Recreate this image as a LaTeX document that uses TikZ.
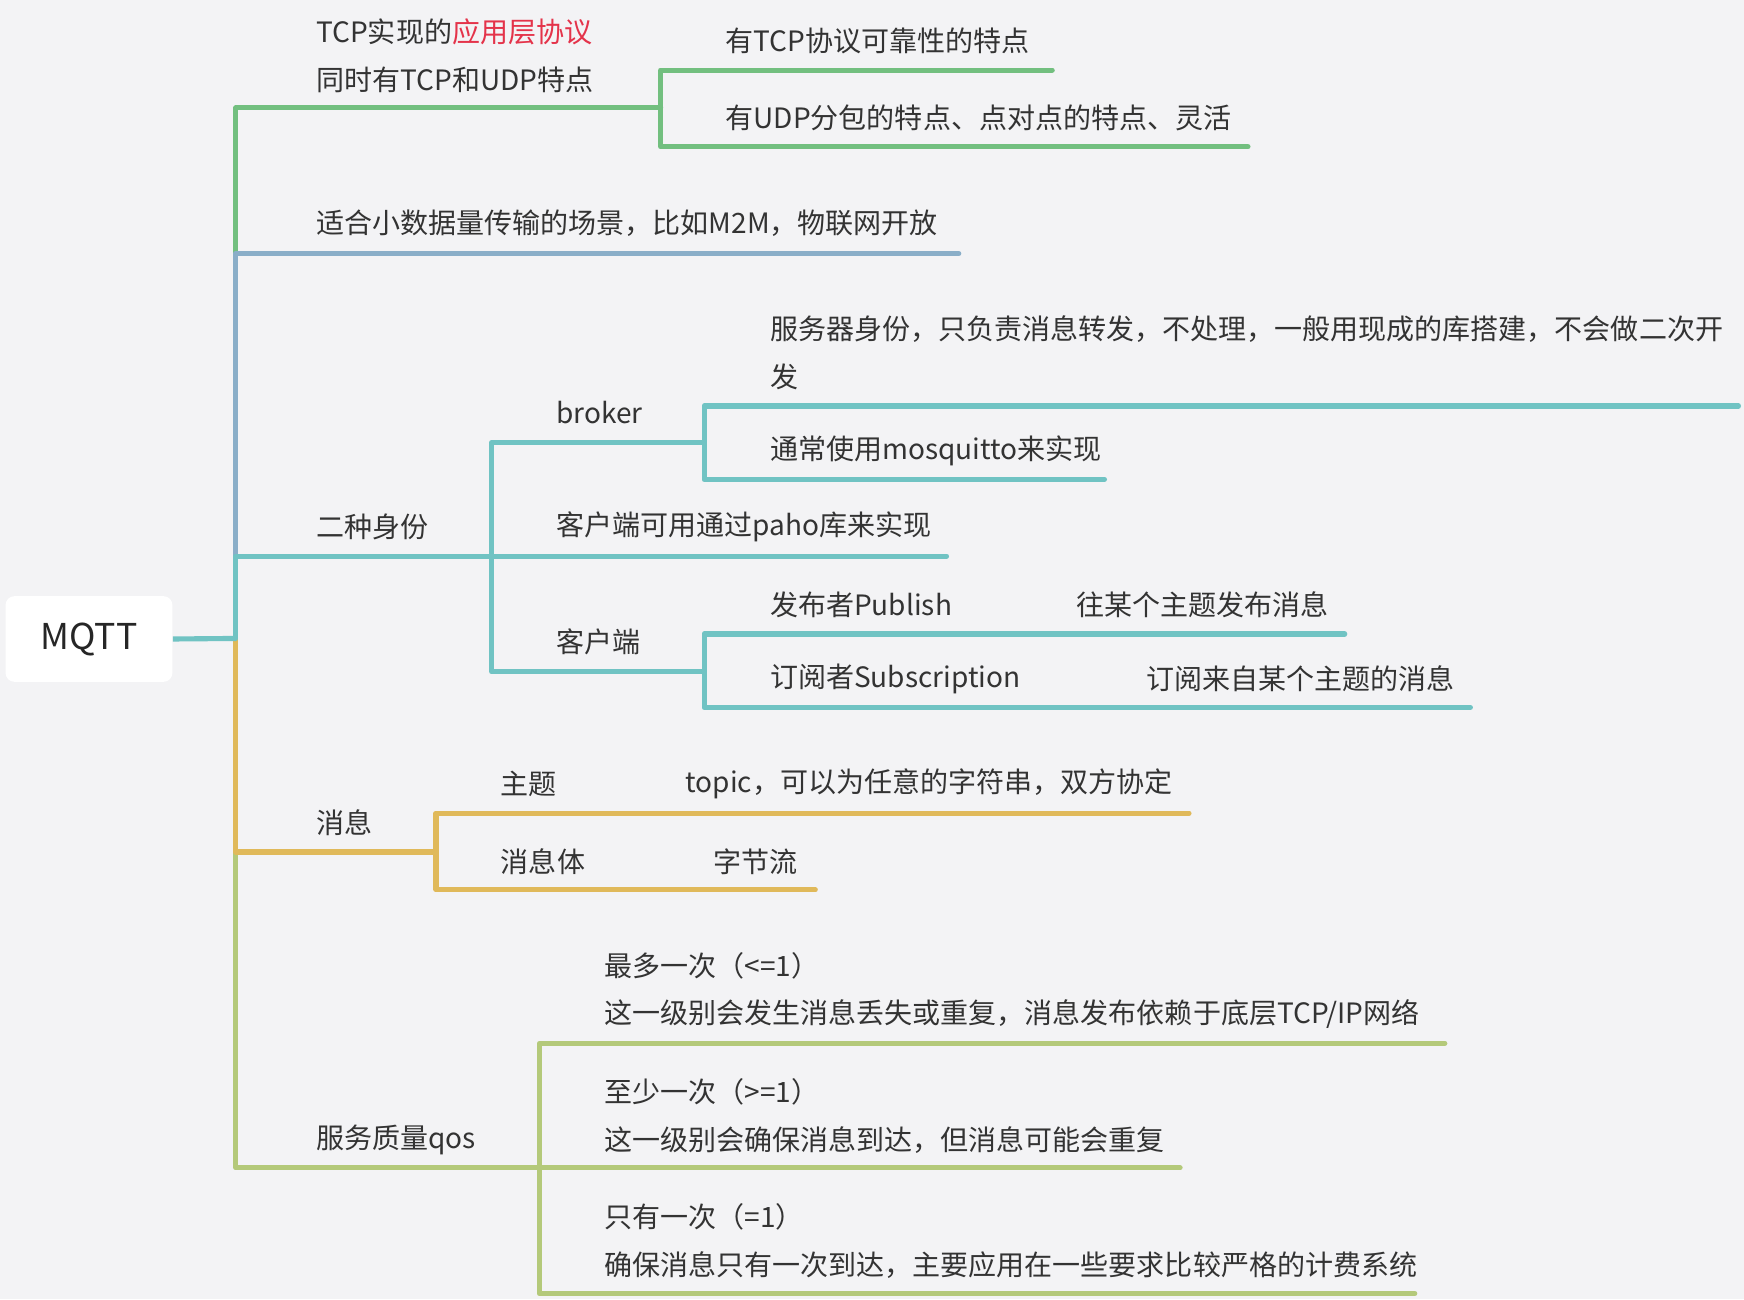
\documentclass[tikz,border=0pt]{standalone}
\usepackage{fontspec}
\setmainfont{Noto Sans CJK SC}
\definecolor{bg}{HTML}{F3F3F5}
\definecolor{txt}{HTML}{333333}
\definecolor{cgreen}{HTML}{72BF7F}
\definecolor{cblue}{HTML}{8AAEC8}
\definecolor{cteal}{HTML}{70C3C3}
\definecolor{cyellow}{HTML}{E0B95A}
\definecolor{colive}{HTML}{B4C97A}
\definecolor{cred}{HTML}{E4334A}
\begin{document}
\begin{tikzpicture}[x=0.5pt,y=-0.5pt,
  lbl/.style={anchor=west,inner sep=0pt,font=\fontsize{12.6pt}{21.5pt}\selectfont,text=txt,align=left},
  br/.style={line width=2.3pt,line cap=round,line join=round}]
\fill[bg] (0,0) rectangle (1568,1168);
\useasboundingbox (0,0) rectangle (1568,1168);

% root
\node[fill=white,rounded corners=4pt,minimum width=75pt,minimum height=38.5pt,inner sep=0pt,
  font=\fontsize{16pt}{18pt}\selectfont,text=black!85] (root) at (80,574.5) {MQTT};

% junction coordinates
\coordinate (t0) at (212,574);
\coordinate (g1) at (212,97);   \coordinate (g2) at (594,97);
\coordinate (g3) at (594,63);   \coordinate (g4) at (946,63);
\coordinate (g5) at (594,132);  \coordinate (g6) at (1122,132);
\coordinate (b1) at (212,228);  \coordinate (b2) at (862,228);
\coordinate (s1) at (212,500);  \coordinate (s2) at (442,500);  \coordinate (s3) at (851,500);
\coordinate (s4) at (442,398);  \coordinate (s5) at (633,398);
\coordinate (s6) at (633,365);  \coordinate (s7) at (1563,365);
\coordinate (s8) at (633,431);  \coordinate (s9) at (993,431);
\coordinate (s10) at (442,604); \coordinate (s11) at (633,604);
\coordinate (s12) at (633,570); \coordinate (s13) at (1209,570);
\coordinate (s14) at (633,636); \coordinate (s15) at (1322,636);
\coordinate (y1) at (212,766);  \coordinate (y2) at (392,766);
\coordinate (y3) at (392,731);  \coordinate (y4) at (1069,731);
\coordinate (y5) at (392,800);  \coordinate (y6) at (733,800);
\coordinate (q1) at (212,1050); \coordinate (q2) at (485,1050); \coordinate (q3) at (1061,1050);
\coordinate (q4) at (485,938);  \coordinate (q5) at (1299,938);
\coordinate (q6) at (485,1163); \coordinate (q7) at (1272,1163);

% branches (drawn so later colours overlay the shared trunk)
\draw[br,cgreen] (t0) -- (g1) -- (g2);
\draw[br,cgreen] (g2) -- (g3) -- (g4);
\draw[br,cgreen] (g2) -- (g5) -- (g6);
\draw[br,cblue] (t0) -- (b1) -- (b2);
\draw[br,colive] (t0) -- (q1) -- (q2) -- (q3);
\draw[br,colive] (q2) -- (q4) -- (q5);
\draw[br,colive] (q2) -- (q6) -- (q7);
\draw[br,cyellow] (t0) -- (y1) -- (y2);
\draw[br,cyellow] (y2) -- (y3) -- (y4);
\draw[br,cyellow] (y2) -- (y5) -- (y6);
\draw[br,cteal] (t0) -- (s1) -- (s2) -- (s3);
\draw[br,cteal] (s2) -- (s4) -- (s5);
\draw[br,cteal] (s5) -- (s6) -- (s7);
\draw[br,cteal] (s5) -- (s8) -- (s9);
\draw[br,cteal] (s2) -- (s10) -- (s11);
\draw[br,cteal] (s11) -- (s12) -- (s13);
\draw[br,cteal] (s11) -- (s14) -- (s15);
\draw[br,cteal,line cap=butt] (root.east) -- (t0);

% labels
\node[lbl] (n1) at (284,50) {TCP实现的\textcolor{cred}{应用层协议}\\同时有TCP和UDP特点};
\node[lbl] (n11) at (652,37) {有TCP协议可靠性的特点};
\node[lbl] (n12) at (652,106) {有UDP分包的特点、点对点的特点、灵活};
\node[lbl] (n2) at (284,201) {适合小数据量传输的场景，比如M2M，物联网开放};
\node[lbl] (n3) at (284,474) {二种身份};
\node[lbl] (n31) at (500,371) {broker};
\node[lbl] (n311) at (692,317.5) {服务器身份，只负责消息转发，不处理，一般用现成的库搭建，不会做二次开\\发};
\node[lbl] (n312) at (692,405) {通常使用mosquitto来实现};
\node[lbl] (n32) at (500,474) {客户端可用通过paho库来实现};
\node[lbl] (n33) at (500,577) {客户端};
\node[lbl] (n331) at (692,544) {发布者Publish};
\node[lbl] (n3311) at (967,544) {往某个主题发布消息};
\node[lbl] (n332) at (692,610) {订阅者Subscription};
\node[lbl] (n3321) at (1030,610) {订阅来自某个主题的消息};
\node[lbl] (n4) at (284,740) {消息};
\node[lbl] (n41) at (450,705) {主题};
\node[lbl] (n411) at (616,705) {topic，可以为任意的字符串，双方协定};
\node[lbl] (n42) at (450,775) {消息体};
\node[lbl] (n421) at (641,775) {字节流};
\node[lbl] (n5) at (284,1025) {服务质量qos};
\node[lbl] (n51) at (543,890.5) {最多一次（<=1）\\这一级别会发生消息丢失或重复，消息发布依赖于底层TCP/IP网络};
\node[lbl] (n52) at (543,1003) {至少一次（>=1）\\这一级别会确保消息到达，但消息可能会重复};
\node[lbl] (n53) at (543,1115.5) {只有一次（=1）\\确保消息只有一次到达，主要应用在一些要求比较严格的计费系统};
\end{tikzpicture}
\end{document}
